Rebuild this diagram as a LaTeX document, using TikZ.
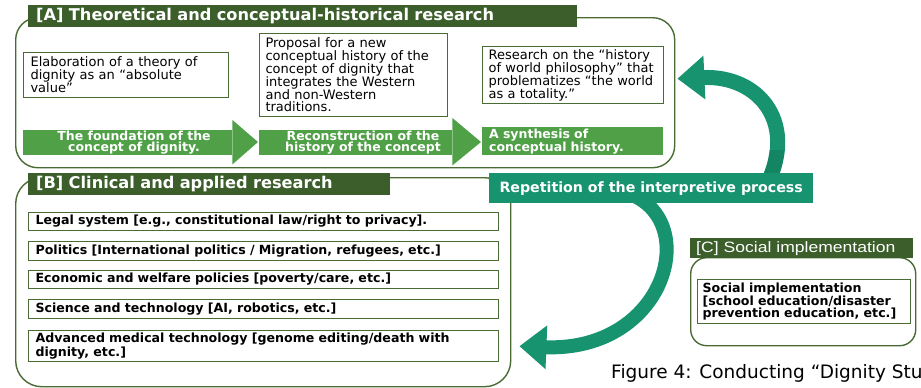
\documentclass[tikz,border=0pt]{standalone}
\usepackage{fontspec}
\setmainfont{DejaVu Sans}
\newfontfamily\capfont[FakeStretch=1.17]{Liberation Sans}
\usetikzlibrary{arrows.meta}
\definecolor{hdr}{HTML}{3B5E2B}
\definecolor{olive}{HTML}{4A6B34}
\definecolor{grn}{HTML}{4FA046}
\definecolor{tealc}{HTML}{17936F}
\definecolor{tealdk}{HTML}{0F7456}
\begin{document}
\begin{tikzpicture}[x=1pt,y=-1pt,
  outline/.style={draw=olive, line width=1.4pt, rounded corners=22pt, anchor=north west, inner sep=0pt},
  hdrbox/.style={fill=hdr, text=white, anchor=north west, inner ysep=0pt, inner xsep=8pt, align=left},
  textbox/.style={draw=olive, line width=1.1pt, fill=white, font=\fontsize{13}{13}\selectfont, align=left, inner xsep=7pt, inner ysep=0pt, anchor=north west},
  itembox/.style={draw=olive, line width=1.1pt, fill=white, font=\bfseries\fontsize{12.6}{13.3}\selectfont, align=left, inner xsep=7pt, inner ysep=0pt, anchor=north west, minimum width=470pt, text width=456pt},
  gbody/.style={fill=grn, anchor=north west, inner sep=0pt},
  gtext/.style={text=white, font=\bfseries\fontsize{12.5}{11.5}\selectfont, align=center, inner sep=0pt},
  curvearrow/.style={draw=tealc, line width=15pt, -{Triangle[width=42pt,length=27pt]}}
]
\useasboundingbox (0,0) rectangle (921,388);

% ---------- [A] ----------
\node[outline, minimum width=659pt, minimum height=150pt] (boxA) at (15,17) {};
\node[hdrbox, minimum width=549pt, minimum height=22pt, text width=533pt, font=\bfseries\fontsize{16.2}{18}\selectfont] (hdrA) at (28,5) {[A] Theoretical and conceptual-historical research};

\node[textbox, minimum width=205pt, minimum height=45pt, text width=191pt] (a1) at (23,52)
  {Elaboration of a theory of\\dignity as an “absolute\\value”};
\node[textbox, minimum width=188pt, minimum height=83pt, text width=176pt, inner xsep=6pt, font=\fontsize{13}{12.8}\selectfont] (a2) at (259,33)
  {Proposal for a new\\conceptual history of the\\concept of dignity that\\integrates the Western\\and non-Western\\traditions.};
\node[textbox, minimum width=181pt, minimum height=57pt, text width=169pt, inner xsep=6pt] (a3) at (482,46)
  {Research on the “history\\of world philosophy” that\\problematizes “the world\\as a totality.”};

\node[gbody, minimum width=209pt, minimum height=25pt] (ar1) at (23,130) {};
\coordinate (tip1) at (258,142);
\fill[grn] ([yshift=10pt]ar1.north east) -- (tip1) -- ([yshift=-9pt]ar1.south east) -- cycle;
\node[gtext] (ar1t) at (134,142.5) {The foundation of the\\concept of dignity.};

\node[gbody, minimum width=193pt, minimum height=25pt] (ar2) at (259,130) {};
\coordinate (tip2) at (481,142);
\fill[grn] ([yshift=12pt]ar2.north east) -- (tip2) -- ([yshift=-10pt]ar2.south east) -- cycle;
\node[gtext] (ar2t) at (363,142.5) {Reconstruction of the\\history of the concept};

\node[gbody, minimum width=181pt, minimum height=28pt, text=white, font=\bfseries\fontsize{12.5}{11.5}\selectfont, align=left, text width=167pt, inner xsep=7pt] (a3g) at (482,127) {A synthesis of\\conceptual history.};

% ---------- [B] ----------
\node[outline, minimum width=495pt, minimum height=209pt, rounded corners=26pt] (boxB) at (15,177) {};
\node[hdrbox, minimum width=362pt, minimum height=22pt, text width=346pt, font=\bfseries\fontsize{16.2}{18}\selectfont] (hdrB) at (28,173) {[B] Clinical and applied research};

\node[itembox, minimum height=18pt] (b1) at (28,212) {Legal system [e.g., constitutional law/right to privacy].};
\node[itembox, minimum height=19pt] (b2) at (28,241) {Politics [International politics / Migration, refugees, etc.]};
\node[itembox, minimum height=18pt] (b3) at (28,270) {Economic and welfare policies [poverty/care, etc.]};
\node[itembox, minimum height=19pt] (b4) at (28,299) {Science and technology [AI, robotics, etc.]};
\node[itembox, minimum height=31pt] (b5) at (28,330) {Advanced medical technology [genome editing/death with\\dignity, etc.]};

% ---------- [C] ----------
\node[outline, minimum width=225pt, minimum height=88pt, rounded corners=16pt] (boxC) at (690,257) {};
\node[hdrbox, minimum width=223pt, minimum height=20pt, text width=211pt, inner xsep=6pt, font=\capfont\fontsize{15}{17}\selectfont] (hdrC) at (690,238) {[C] Social implementation};
\node[textbox, minimum width=213pt, minimum height=44pt, text width=203pt, inner xsep=5pt, font=\bfseries\fontsize{12.6}{12.2}\selectfont] (c1) at (697,279)
  {Social implementation\\{[}school education/disaster\\prevention education, etc.{]}};

% ---------- curved arrows ----------
\coordinate (u0) at (764,190);
\coordinate (l0) at (630,194);
\draw[curvearrow] (u0) .. controls (800,125) and (760,75) .. ([shift={(2pt,14pt)}]boxA.east);
\begin{scope}
  \clip (690,150) rectangle (800,175);
  \draw[tealdk, line width=15pt, opacity=0.45] (u0) .. controls (800,125) and (760,75) .. ([shift={(2pt,14pt)}]boxA.east);
\end{scope}
\draw[curvearrow, line width=14pt] (l0) .. controls (702,222) and (665,352) .. ([shift={(8pt,-64pt)}]boxB.east);

\node[fill=tealc, text=white, font=\bfseries\fontsize{14.2}{16}\selectfont, minimum width=324pt, minimum height=30pt, anchor=north west, inner sep=0pt] (rep) at (489,173) {Repetition of the interpretive process};

% ---------- caption ----------
\node[anchor=base west, inner sep=0pt, font=\fontsize{18.5}{20}\selectfont] (cap) at (611,378) {Figure 4: Conducting “Dignity Stu};
\end{tikzpicture}
\end{document}
